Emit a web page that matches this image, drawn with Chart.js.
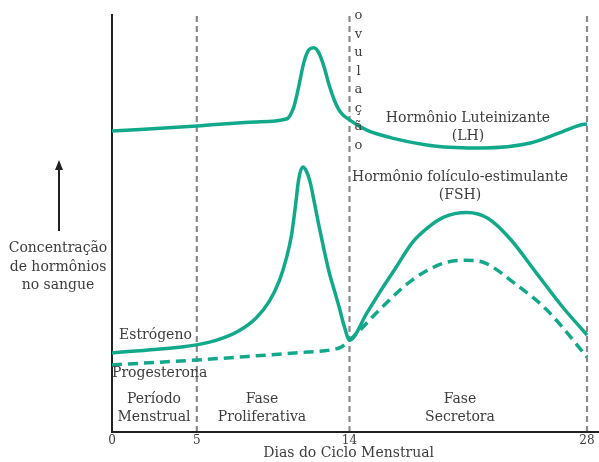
<!DOCTYPE html>
<html>
<head>
<meta charset="utf-8">
<script src="https://cdn.jsdelivr.net/npm/chart.js@4.4.1/dist/chart.umd.min.js"></script>
<style>
  body { margin: 0; background: #fff; }
</style>
</head>
<body>
<canvas id="ciclo" width="599" height="462"></canvas>
<script>
// dias marcados no eixo e linhas de fase
const dayTicks = [0, 5, 14, 28];
const phaseDays = [5, 14, 28];

// hormônio luteinizante (LH)
const lhDays = [0, 5, 8.5, 10.28, 10.7, 11, 11.3, 11.6, 11.9, 12.2, 12.5, 12.8, 13.1, 13.46, 14, 15.02, 16.72, 18.99, 21.82, 24.66, 26.53, 27.66, 28];
const lhVals = [72.7, 73.9, 74.9, 75.6, 78.3, 83.3, 89.1, 92.3, 92.8, 91.5, 88.2, 83.8, 80.2, 77.3, 75.4, 72.9, 70.8, 69.1, 68.6, 69.8, 72.5, 74.2, 74.4];

// estrógeno / FSH
const estDays = [0, 4.21, 5.06, 6.26, 7.46, 8.48, 9.26, 9.86, 10.28, 10.58, 10.82, 11, 11.24, 11.48, 11.72, 11.9, 12.2, 12.5, 12.8, 13.1, 13.4, 13.7, 14,
    15.02, 15.76, 16.72, 17.69, 18.6, 19.56, 20.9, 22.2, 23.5, 25, 26.5, 28];
const estVals = [19.1, 20.6, 21.1, 22.3, 24.4, 27.5, 31.5, 36.5, 42, 47.5, 54.8, 60.9, 64, 62.8, 59.7, 56, 49.8, 44, 38.6, 34.3, 30, 25.4, 22.2,
    28.7, 33.6, 39.6, 45.7, 49.3, 51.9, 53, 51.5, 46.5, 38.5, 30.5, 23.4];

// progesterona
const proDays = [0, 5, 8.5, 11.5, 12.86, 13.5, 14, 14.45, 15.76, 17.69, 19.56, 20.86, 22, 23.7, 25.63, 28];
const proVals = [16.2, 17.4, 18.4, 19.3, 19.8, 20.5, 22.2, 23.9, 29.5, 36.7, 40.8, 41.5, 40.8, 36, 29.5, 18.1];

const green = '#12a98b';
const textColor = '#3d3d3d';
const serif = "'DejaVu Serif', 'Liberation Serif', serif";

const pts = (xs, ys) => xs.map((x, i) => ({ x: x, y: ys[i] }));

const decor = {
    id: 'decor',
    beforeDraw(chart) {
        const ctx = chart.ctx;
        ctx.save();
        ctx.fillStyle = '#fff';
        ctx.fillRect(0, 0, chart.width, chart.height);
        ctx.restore();
    },
    beforeDatasetsDraw(chart) {
        const { ctx, chartArea, scales } = chart;
        const x0 = scales.x.getPixelForValue(0);
        ctx.save();
        // linhas tracejadas das fases
        ctx.strokeStyle = '#8a8a8a';
        ctx.lineWidth = 2.2;
        ctx.setLineDash([6, 4]);
        phaseDays.forEach(d => {
            const px = scales.x.getPixelForValue(d);
            ctx.beginPath();
            ctx.moveTo(px, chartArea.top - 2);
            ctx.lineTo(px, chartArea.bottom);
            ctx.stroke();
        });
        ctx.setLineDash([]);
        // eixos
        ctx.strokeStyle = '#222';
        ctx.lineWidth = 2;
        ctx.beginPath();
        ctx.moveTo(x0, chartArea.top - 4);
        ctx.lineTo(x0, chartArea.bottom);
        ctx.lineTo(chart.width, chartArea.bottom);
        ctx.stroke();
        ctx.restore();
    },
    afterDraw(chart) {
        const { ctx, scales } = chart;
        ctx.save();
        ctx.fillStyle = textColor;
        ctx.textAlign = 'center';
        ctx.textBaseline = 'middle';

        // ovulação na vertical
        const ox = scales.x.getPixelForValue(14) + 9;
        ctx.font = '13px ' + serif;
        'ovulação'.split('').forEach((ch, i) => {
            ctx.fillText(ch, ox, 16 + i * 18.5);
        });
        ctx.font = '14px ' + serif;

        ctx.fillText('Hormônio Luteinizante', 468, 118);
        ctx.fillText('(LH)', 468, 136);
        ctx.fillText('Hormônio folículo-estimulante', 460, 177);
        ctx.fillText('(FSH)', 460, 195);

        ctx.fillText('Período', 154, 399);
        ctx.fillText('Menstrual', 154, 417);
        ctx.fillText('Fase', 262, 399);
        ctx.fillText('Proliferativa', 262, 417);
        ctx.fillText('Fase', 460, 399);
        ctx.fillText('Secretora', 460, 417);

        ctx.textAlign = 'left';
        ctx.fillText('Estrógeno', 119, 335);
        ctx.fillText('Progesterona', 112, 373);

        ctx.textAlign = 'center';
        ctx.fillText('Concentração', 58, 248);
        ctx.fillText('de hormônios', 58, 267);
        ctx.fillText('no sangue', 58, 285);

        // seta
        ctx.strokeStyle = '#222';
        ctx.fillStyle = '#222';
        ctx.lineWidth = 2;
        ctx.beginPath();
        ctx.moveTo(59, 231);
        ctx.lineTo(59, 168);
        ctx.stroke();
        ctx.beginPath();
        ctx.moveTo(59, 160);
        ctx.lineTo(55, 170);
        ctx.lineTo(63, 170);
        ctx.closePath();
        ctx.fill();
        ctx.restore();
    }
};

const lineStyle = {
    borderColor: green,
    borderWidth: 3.5,
    pointRadius: 0,
    fill: false,
    cubicInterpolationMode: 'monotone'
};

new Chart(document.getElementById('ciclo'), {
    type: 'line',
    data: {
        datasets: [
            Object.assign({ label: 'LH', data: pts(lhDays, lhVals) }, lineStyle),
            Object.assign({ label: 'Estrógeno / FSH', data: pts(estDays, estVals) }, lineStyle),
            Object.assign({ label: 'Progesterona', data: pts(proDays, proVals), borderDash: [10, 6] }, lineStyle)
        ]
    },
    options: {
        responsive: false,
        animation: false,
        layout: { padding: { left: 108.6, right: 10.3, top: 18, bottom: 0 } },
        plugins: { legend: { display: false }, tooltip: { enabled: false } },
        scales: {
            x: {
                type: 'linear',
                min: -0.2,
                max: 28.1,
                afterBuildTicks: s => { s.ticks = dayTicks.map(v => ({ value: v })); },
                afterFit: s => { s.height = 30; },
                grid: { display: false, drawTicks: false },
                border: { display: false },
                ticks: { font: { family: serif, size: 12 }, color: textColor, padding: 2, autoSkip: false, maxRotation: 0 },
                title: {
                    display: true,
                    text: 'Dias do Ciclo Menstrual',
                    font: { family: serif, size: 14 },
                    color: textColor,
                    padding: { top: 0, bottom: 0 }
                }
            },
            y: { display: false, min: 0, max: 100 }
        }
    },
    plugins: [decor]
});
</script>
</body>
</html>
